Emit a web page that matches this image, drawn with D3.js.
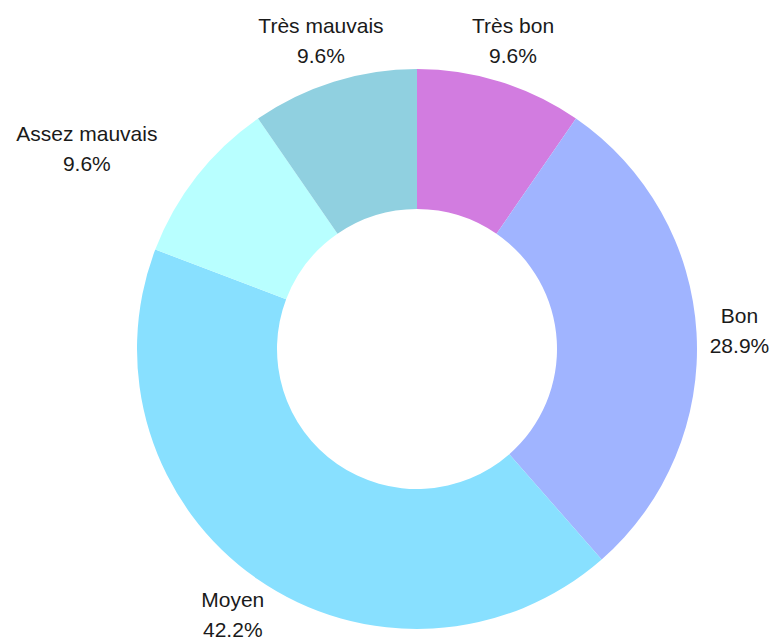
<!DOCTYPE html>
<html>
<head>
<meta charset="utf-8">
<script src="https://cdn.jsdelivr.net/npm/d3@7"></script>
<style>
  body { margin: 0; background: #fff; }
  text { font-family: "Liberation Sans", Arial, sans-serif; font-size: 21px; fill: #1a1a1a; }
</style>
</head>
<body>
<div id="chart"></div>
<script>
// Données du graphique (dans le sens horaire depuis le haut)
const categories = ["Très bon", "Bon", "Moyen", "Assez mauvais", "Très mauvais"];
const values = [9.6, 28.9, 42.2, 9.6, 9.6];
const colors = ["#d27ce0", "#a0b4ff", "#88e0ff", "#b8ffff", "#90d0e0"];

const width = 776, height = 639;
const cx = 417, cy = 349;
const outerR = 280, innerR = 140, labelR = 323;

// Décalage de l'étiquette en haut à gauche pour éviter le chevauchement
const nudge = {
    "Assez mauvais": [-76, -1]
};

const svg = d3.select("#chart")
    .append("svg")
    .attr("width", width)
    .attr("height", height);

const g = svg.append("g")
    .attr("transform", `translate(${cx},${cy})`);

const data = categories.map((c, i) => ({ label: c, value: values[i], color: colors[i] }));

const pie = d3.pie()
    .value(d => d.value)
    .sort(null);

const arc = d3.arc()
    .innerRadius(innerR)
    .outerRadius(outerR);

const labelArc = d3.arc()
    .innerRadius(labelR)
    .outerRadius(labelR);

const arcs = pie(data);

g.selectAll(".slice")
    .data(arcs)
    .enter()
    .append("path")
    .attr("class", "slice")
    .attr("d", arc)
    .attr("fill", d => d.data.color);

const labels = g.selectAll(".label")
    .data(arcs)
    .enter()
    .append("text")
    .attr("class", "label")
    .attr("text-anchor", "middle")
    .attr("transform", d => {
        const [x, y] = labelArc.centroid(d);
        const n = nudge[d.data.label] || [0, 0];
        return `translate(${x + n[0]},${y + n[1]})`;
    });

labels.append("tspan")
    .attr("x", 0)
    .attr("y", -15)
    .attr("dominant-baseline", "central")
    .text(d => d.data.label);

labels.append("tspan")
    .attr("x", 0)
    .attr("y", 15)
    .attr("dominant-baseline", "central")
    .text(d => d.data.value.toFixed(1) + "%");
</script>
</body>
</html>
